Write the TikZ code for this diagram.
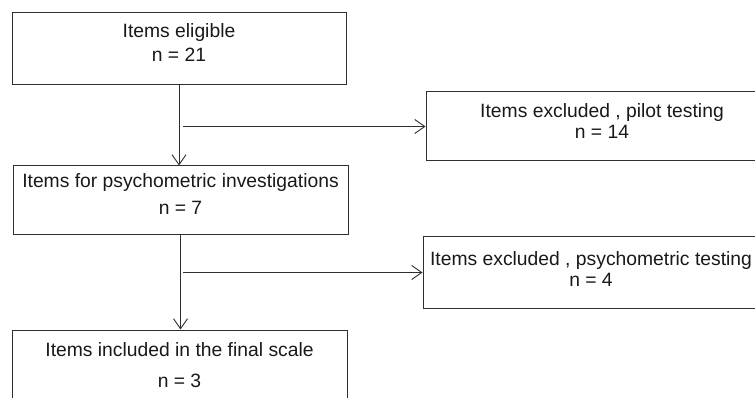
\documentclass[tikz,border=0pt]{standalone}
\usepackage{fontspec}
\setmainfont{Liberation Sans}
\usepackage{xcolor}
\usetikzlibrary{arrows.meta}
\definecolor{linegray}{rgb}{0.18,0.18,0.18}

\begin{document}
\begin{tikzpicture}[x=1pt, y=-1pt,
  box/.style={draw=linegray, line width=1pt, rectangle, align=center, inner sep=2pt,
    text=black!90, font=\fontsize{19.3}{22.5}\selectfont},
  flow/.style={draw=linegray, line width=0.9pt, -{Straight Barb[length=10pt, width=14pt, line width=0.9pt]}}]
\clip (0, 0) rectangle (755, 398);
\node[box, text depth=12.5pt, minimum width=334pt, minimum height=72pt] (eligible) at (179, 49) {Items eligible\\[1.5pt]n = 21};
\node[box, text depth=11.5pt, minimum width=352pt, minimum height=69pt] (pilot) at (602, 126.5) {Items excluded , pilot testing\\[-1.5pt]n = 14};
\node[box, text depth=13.5pt, minimum width=335pt, minimum height=69pt] (psycho) at (180.5, 200.5) {Items for psychometric investigations\\[4.5pt]n = 7};
\node[box, text depth=7.5pt, minimum width=336pt, minimum height=71pt] (excluded) at (591, 272.5) {Items excluded , psychometric testing\\[-1.5pt]n = 4};
\node[box, text depth=3.5pt, minimum width=335pt, minimum height=74pt] (final) at (179.5, 367) {Items included in the final scale\\[8.5pt]n = 3};
\coordinate (split1) at (183, 126.5);
\coordinate (split2) at (183, 272.5);
\draw[flow] (eligible.south) -- (eligible.south |- psycho.north);
\draw[flow] (split1) -- (pilot.west);
\draw[flow] (psycho.south) -- (psycho.south |- final.north);
\draw[flow] (split2) -- (excluded.west);
\end{tikzpicture}
\end{document}
